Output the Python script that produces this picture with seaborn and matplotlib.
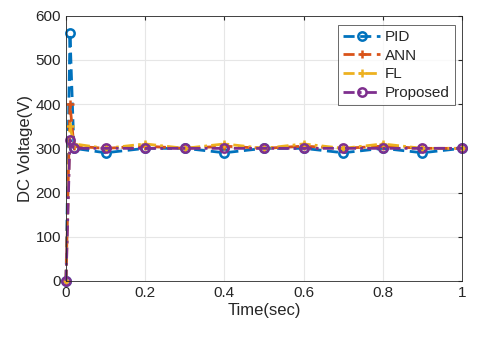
import matplotlib
matplotlib.use('Agg')
import matplotlib.pyplot as plt
import pandas as pd
import seaborn as sns

time = [0, 0.01, 0.02, 0.1, 0.2, 0.3, 0.4, 0.5, 0.6, 0.7, 0.8, 0.9, 1.0]
pid = [0, 560, 300, 290, 300, 300, 290, 300, 300, 290, 300, 290, 300]
ann = [0, 400, 305, 300, 305, 300, 305, 300, 305, 300, 305, 300, 300]
fl = [0, 350, 310, 300, 310, 300, 310, 300, 310, 300, 310, 300, 300]
proposed = [0, 320, 300, 300, 300, 300, 300, 300, 300, 300, 300, 300, 300]

names = ['PID', 'ANN', 'FL', 'Proposed']
colors = ['#0072BD', '#D95319', '#EDB120', '#7E2F8E']
markers = ['o', '+', '+', 'o']
styles = [(0, (4, 2)), (0, (4, 2)), (0, (4, 1.5, 1, 1.5)), (0, (4, 1.5, 1, 1.5))]

sns.set_style('white')
plt.rcParams['font.family'] = ['Liberation Sans', 'DejaVu Sans']

fig = plt.figure(figsize=(4.8, 3.43), dpi=100)
ax = fig.add_axes([0.1375, 0.181, 0.825, 0.773])

for name, vals, c, m, ls in zip(names, [pid, ann, fl, proposed], colors, markers, styles):
    df = pd.DataFrame({'t': time, 'v': vals})
    sns.lineplot(data=df, x='t', y='v', ax=ax, color=c, label=name,
                 marker=m, markersize=6, markerfacecolor='none',
                 markeredgecolor=c, markeredgewidth=1.8, linewidth=2,
                 linestyle=ls, clip_on=False)

ax.set_xlim(0, 1)
ax.set_ylim(0, 600)
ax.set_xticks([0, 0.2, 0.4, 0.6, 0.8, 1])
ax.set_xticklabels(['0', '0.2', '0.4', '0.6', '0.8', '1'])
ax.set_yticks(range(0, 601, 100))
ax.grid(True, color='#e6e6e6', linewidth=0.8)
ax.tick_params(direction='in', length=3, labelsize=11, colors='#262626',
               top=True, right=True)
for s in ax.spines.values():
    s.set_color('#262626')
    s.set_linewidth(0.6)
ax.set_xlabel('Time(sec)', fontsize=12, color='#262626', labelpad=2)
ax.set_ylabel('DC Voltage(V)', fontsize=12, color='#262626', labelpad=2)

leg = ax.legend(loc='upper right', bbox_to_anchor=(0.982, 0.966), fontsize=11,
                frameon=True, fancybox=False, edgecolor='#262626',
                borderaxespad=0, borderpad=0.35, labelspacing=0.3,
                handlelength=2.4, handletextpad=0.3)
leg.get_frame().set_linewidth(0.6)

fig.savefig('out.png', dpi=100)
